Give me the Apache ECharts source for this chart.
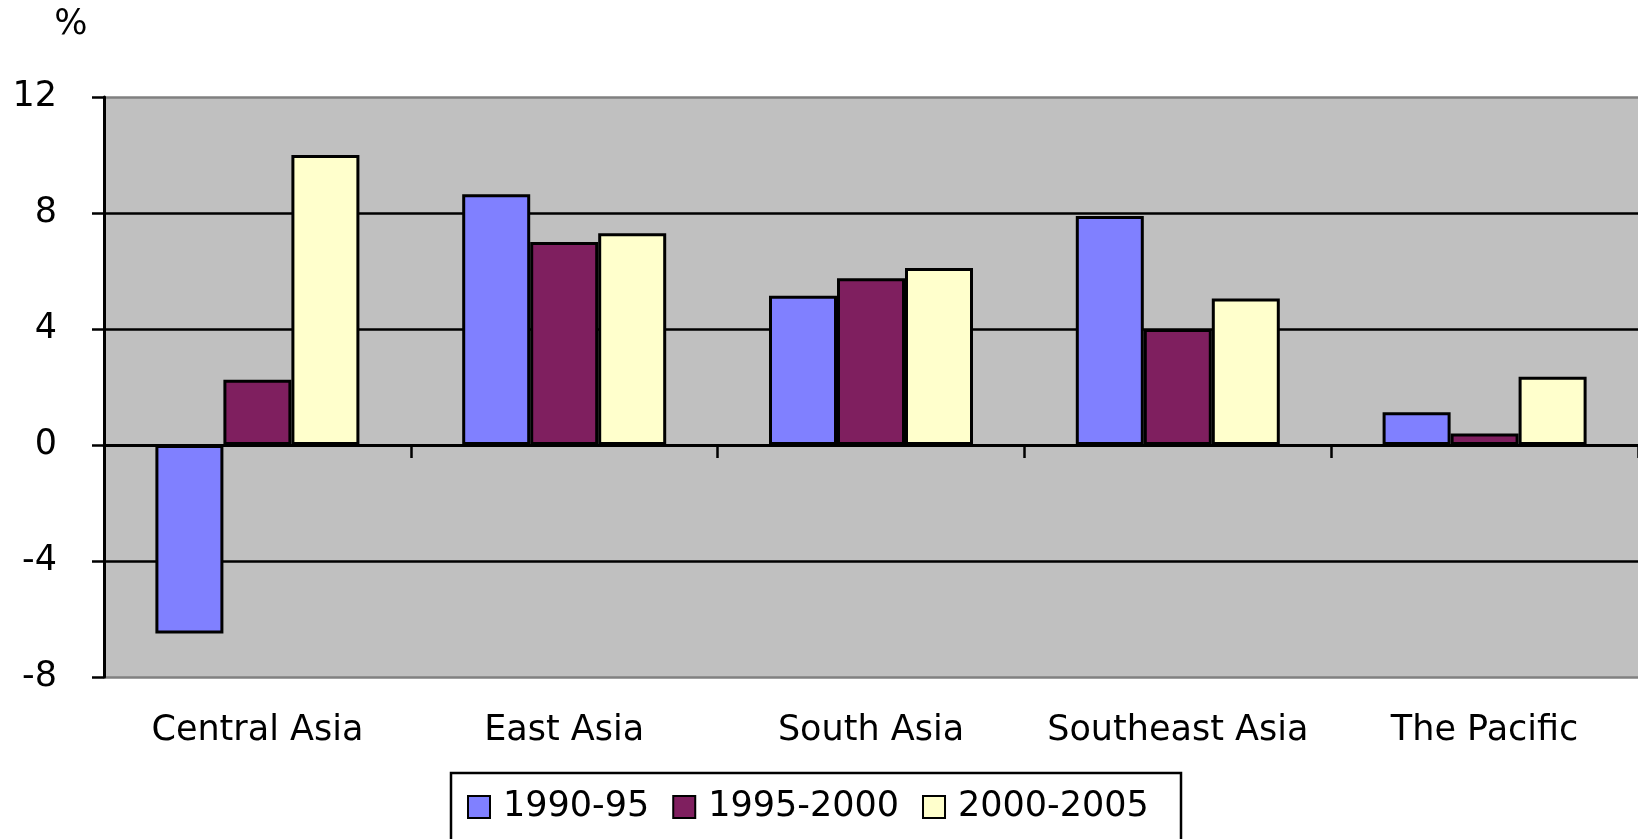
<!DOCTYPE html>
<html>
<head>
<meta charset="utf-8">
<script src="https://cdn.jsdelivr.net/npm/echarts@6/dist/echarts.min.js"></script>
<style>html,body{margin:0;padding:0;background:#fff;}#c{width:1638px;height:839px;}</style>
</head>
<body>
<div id="c"></div>
<script>
var categories = ['Central Asia', 'East Asia', 'South Asia', 'Southeast Asia', 'The Pacific'];
var seriesNames = ['1990-95', '1995-2000', '2000-2005'];
var s1990 = [-6.5, 8.65, 5.15, 7.9, 1.13];
var s1995 = [2.25, 7.0, 5.75, 4.0, 0.4];
var s2000 = [10.0, 7.3, 6.1, 5.05, 2.35];
var yTicks = { min: -8, max: 12, interval: 4 };
var colors = ['#8080FF', '#7F1F5F', '#FFFFCC'];

var FONT = 'DejaVu Sans';
var chart = echarts.init(document.getElementById('c'), null, { renderer: 'canvas' });

function bar(name, data, color) {
  return {
    name: name, type: 'bar', data: data, xAxisIndex: 0,
    barWidth: 68, barGap: '0%',
    itemStyle: { color: color, borderColor: '#000', borderWidth: 3 },
    emphasis: { disabled: true }
  };
}

chart.setOption({
  animation: false,
  backgroundColor: '#fff',
  grid: { left: 104, right: 0, top: 97, bottom: 162, show: true, backgroundColor: '#C0C0C0', borderWidth: 0 },
  xAxis: [
    {
      type: 'category', data: categories,
      axisLine: { onZero: true, lineStyle: { color: '#000', width: 3 } },
      axisTick: { show: true, length: 13, lineStyle: { color: '#000', width: 2.5 } },
      axisLabel: { show: false },
      splitLine: { show: false }
    },
    {
      type: 'category', data: categories, position: 'bottom',
      axisLine: { show: false, onZero: false },
      axisTick: { show: false },
      axisLabel: { show: true, interval: 0, margin: 36, color: '#000', fontFamily: FONT, fontSize: 35 },
      splitLine: { show: false }
    }
  ],
  yAxis: {
    type: 'value', min: yTicks.min, max: yTicks.max, interval: yTicks.interval,
    axisLine: { show: true, lineStyle: { color: '#000', width: 3 } },
    axisTick: { show: true, length: 12, lineStyle: { color: '#000', width: 2.5 } },
    axisLabel: { margin: 47, color: '#000', fontFamily: FONT, fontSize: 35 },
    splitLine: { show: true, lineStyle: { color: ['#808080', '#000', '#000', '#000', '#000', '#808080'], width: 2.5 } }
  },
  legend: {
    data: seriesNames, left: 467, top: 787, padding: 0,
    itemWidth: 22, itemHeight: 22, itemGap: 23, icon: 'rect',
    textStyle: { color: '#000', fontFamily: FONT, fontSize: 35, lineHeight: 40, padding: [0, 0, 0, 8] },
    selectedMode: false
  },
  graphic: [
    { type: 'rect', z: -10, shape: { x: 451, y: 773, width: 730, height: 100 },
      style: { fill: '#fff', stroke: '#000', lineWidth: 2.5 } },
    { type: 'text', x: 71, y: 25, style: { text: '%', fill: '#000', font: '35px "DejaVu Sans"', align: 'center', verticalAlign: 'middle' } }
  ],
  series: [
    bar(seriesNames[0], s1990, colors[0]),
    bar(seriesNames[1], s1995, colors[1]),
    bar(seriesNames[2], s2000, colors[2])
  ]
});
</script>
</body>
</html>
